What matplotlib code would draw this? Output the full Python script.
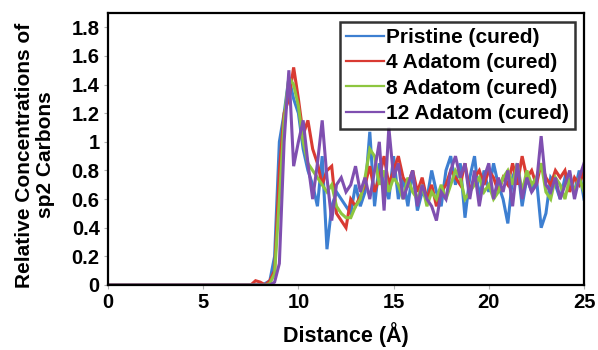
import numpy as np
import matplotlib
matplotlib.use("Agg")
import matplotlib.pyplot as plt

plt.rcParams['font.family'] = ['Liberation Sans', 'DejaVu Sans']

# distance grid (Å)
distance = np.arange(0, 25.001, 0.25)

zeros_0_7 = [0.0] * 28  # 0.00 .. 6.75 Å, all zero in every series

pristine = zeros_0_7 + [
    0, 0, 0, 0,
    0, 0.01, 0.03, 0.2,
    1.0, 1.2, 1.45, 1.3,
    1.2, 0.95, 0.8, 0.7,
    0.55, 0.9, 0.25, 0.55,
    0.65, 0.6, 0.55, 0.5,
    0.7, 0.55, 0.65, 1.07,
    0.55, 0.85, 0.7, 0.6,
    0.9, 0.6, 0.75, 0.55,
    0.8, 0.52, 0.65, 0.6,
    0.8, 0.65, 0.55, 0.8,
    0.9, 0.7, 0.85, 0.47,
    0.75, 0.9, 0.6, 0.8,
    0.65, 0.85, 0.7, 0.6,
    0.43, 0.75, 0.85, 0.55,
    0.75, 0.65, 0.75, 0.4,
    0.5, 0.75, 0.7, 0.6,
    0.75, 0.7, 0.65, 0.8,
    0.6]

adatom4 = zeros_0_7 + [
    0, 0, 0, 0.03,
    0.02, 0.0, 0.03, 0.1,
    0.8, 1.2, 1.3, 1.52,
    1.3, 1.05, 1.15, 0.95,
    0.85, 0.7, 0.8, 0.83,
    0.5, 0.45, 0.4, 0.6,
    0.55, 0.62, 0.7, 0.83,
    0.65, 0.75, 0.9, 0.7,
    0.8, 0.9, 0.75, 0.7,
    0.8, 0.65, 0.75, 0.6,
    0.7, 0.55, 0.65, 0.7,
    0.8, 0.75, 0.7, 0.85,
    0.65, 0.75, 0.8, 0.7,
    0.8, 0.75, 0.65, 0.75,
    0.7, 0.85, 0.7, 0.9,
    0.75, 0.8, 0.7, 0.85,
    0.75, 0.7, 0.8, 0.75,
    0.8, 0.65, 0.75, 0.7,
    0.8]

adatom8 = zeros_0_7 + [
    0, 0, 0, 0,
    0, 0, 0.01, 0.08,
    0.6, 1.15, 1.45, 1.4,
    1.25, 1.0, 0.85, 0.8,
    0.75, 0.7, 0.65, 0.7,
    0.55, 0.5, 0.47, 0.47,
    0.55, 0.6, 0.75, 0.95,
    0.9, 0.7, 0.8, 0.65,
    0.75, 0.7, 0.6, 0.75,
    0.65, 0.6, 0.7, 0.55,
    0.65, 0.6, 0.7, 0.6,
    0.7, 0.8, 0.75, 0.6,
    0.65, 0.7, 0.75, 0.65,
    0.7, 0.6, 0.65, 0.75,
    0.8, 0.7, 0.85, 0.65,
    0.8, 0.7, 0.75, 0.85,
    0.65, 0.6, 0.75, 0.7,
    0.6, 0.75, 0.65, 0.75,
    0.65]

adatom12 = zeros_0_7 + [
    0, 0, 0, 0,
    0, 0, 0, 0.02,
    0.15, 1.0, 1.5, 0.83,
    1.0, 1.15, 0.85, 0.6,
    0.85, 1.15, 0.75, 0.45,
    0.7, 0.75, 0.65, 0.7,
    0.83, 0.65, 0.75, 0.6,
    0.8, 1.0, 0.52, 1.1,
    0.75, 0.85, 0.6, 0.7,
    0.8, 0.55, 0.7, 0.6,
    0.55, 0.45, 0.65, 0.6,
    0.8, 0.9, 0.75, 0.85,
    0.6, 0.8, 0.55, 0.75,
    0.85, 0.6, 0.75, 0.65,
    0.8, 0.55, 0.85, 0.6,
    0.75, 0.65, 0.7, 1.04,
    0.7, 0.65, 0.75, 0.6,
    0.7, 0.8, 0.6, 0.75,
    0.85]

labels = ["Pristine (cured)", "4 Adatom (cured)", "8 Adatom (cured)", "12 Adatom (cured)"]
colors = ["#3D7FD1", "#D93A32", "#8DC63F", "#7F4FB0"]
series = [pristine, adatom4, adatom8, adatom12]

xticks = [0, 5, 10, 15, 20, 25]
yticks = [0, 0.2, 0.4, 0.6, 0.8, 1.0, 1.2, 1.4, 1.6, 1.8]
ytick_labels = ["0", "0.2", "0.4", "0.6", "0.8", "1", "1.2", "1.4", "1.6", "1.8"]

fig = plt.figure(figsize=(5.98, 3.5), dpi=100)
ax = fig.add_axes([108/598, 65/350, 476/598, 272/350])

for vals, lab, col in zip(series, labels, colors):
    ax.plot(distance, vals, color=col, lw=2.2, label=lab, solid_joinstyle='miter')

ax.set_xlim(0, 25)
ax.set_ylim(0, 1.9)
ax.set_xticks(xticks)
ax.set_yticks(yticks)
ax.set_yticklabels(ytick_labels)
for lab in ax.get_xticklabels() + ax.get_yticklabels():
    lab.set_fontweight('bold')
ax.tick_params(axis='both', direction='out', length=3, width=0.8, color='#B0B0B0',
               labelsize=14.5, pad=3)

for sp in ax.spines.values():
    sp.set_linewidth(1.6)
    sp.set_color('black')

ax.set_xlabel("Distance (Å)", fontsize=15.5, fontweight='bold', labelpad=7)
ax.set_ylabel("Relative Concentrations of\nsp2 Carbons", fontsize=15, fontweight='bold',
              linespacing=1.15)
ax.yaxis.set_label_coords(-0.111, 0.478)

leg = ax.legend(loc='upper right', bbox_to_anchor=(0.981, 0.967),
                prop={'weight': 'bold', 'size': 15}, frameon=True, fancybox=False,
                handlelength=1.8, handletextpad=0.1, labelspacing=0.3,
                borderpad=0.3, borderaxespad=0)
leg.get_frame().set_edgecolor('black')
leg.get_frame().set_linewidth(1.8)
for h in leg.get_lines():
    h.set_linewidth(1.6)

fig.savefig("out.png", dpi=100)
